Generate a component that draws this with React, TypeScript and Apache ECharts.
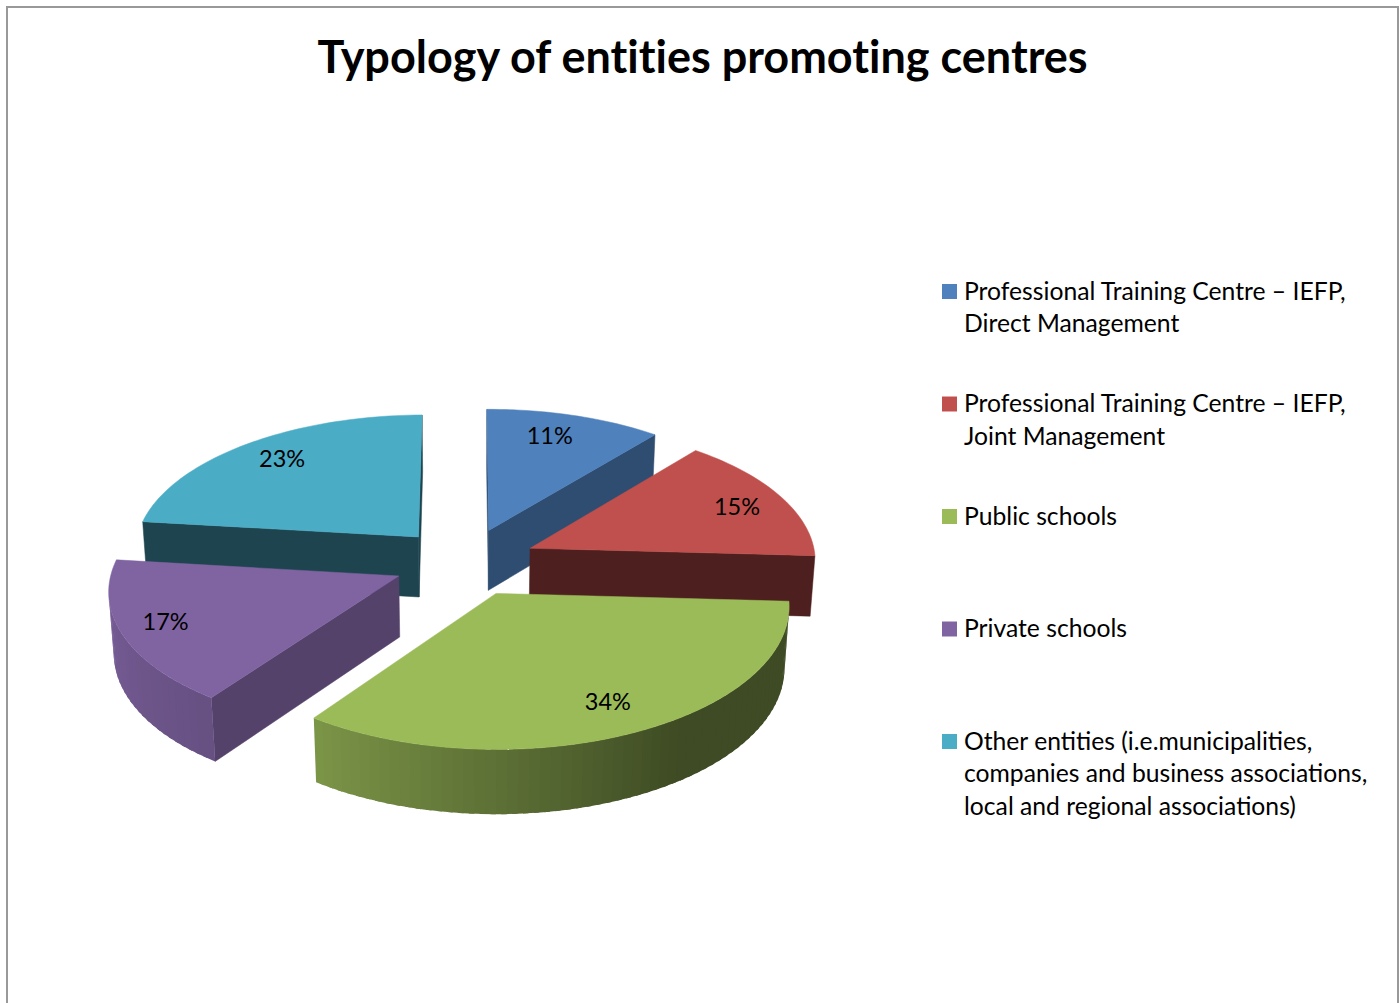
import React, { useEffect, useRef } from "react";
import * as echarts from "echarts";

const titleText = "Typology of entities promoting centres";
const categories = [
  "Professional Training Centre – IEFP,\nDirect Management",
  "Professional Training Centre – IEFP,\nJoint Management",
  "Public schools",
  "Private schools",
  "Other entities (i.e.municipalities,\ncompanies and business associations,\nlocal and regional associations)",
];
const shares = [11, 15, 34, 17, 23];
const colors = ["#4F81BD", "#C0504D", "#9BBB59", "#8064A2", "#4BACC6"];

// Brightness of each slice's cut face, and where its label sits relative to its mid-angle.
const wallShade = [0.6, 0.4, 0.5, 0.66, 0.4];
const labelReach = [0.93, 1.05, 1.04, 1.08, 1.02];
const labelNudge: [number, number][] = [[1, -15], [6, 0], [5, 0], [-5, -3], [-2, -7]];

// Projection of the pie plane on screen, in unit-radius world coordinates.
const CX = 465;
const CY = 562;
const SCALE_X = 286;
const SCALE_Y = 136.7;
const PERSPECTIVE = 0.0865;
const ROLL = 0.004;
const EXPLODE = 0.25;
const THICKNESS = 61.5;
const BASE_RECEDE = 0.014;
const FONT = "Lato, 'Open Sans', sans-serif";

type Pt = [number, number];

const rad = (deg: number) => (deg * Math.PI) / 180;

function project(x: number, y: number, lower: boolean): Pt {
  const den = 1 - PERSPECTIVE * y + (lower ? BASE_RECEDE : 0);
  const sx = (SCALE_X * x) / den;
  return [CX + sx, CY + (SCALE_Y * y + (lower ? THICKNESS : 0)) / den - ROLL * sx];
}

function shoelace(pts: Pt[]): number {
  let a = 0;
  pts.forEach((p, i) => {
    const q = pts[(i + 1) % pts.length];
    a += p[0] * q[1] - q[0] * p[1];
  });
  return a;
}

function shade(hex: string, m: number): string {
  const n = parseInt(hex.slice(1), 16);
  const c = [(n >> 16) & 255, (n >> 8) & 255, n & 255].map((v) => Math.round(v * m));
  return `rgb(${c[0]},${c[1]},${c[2]})`;
}

// Light falling on the rim: dark on the front right, brightening towards the left.
function rimLight(deg: number): number {
  if (deg < 145) return 0.4;
  if (deg < 216) return 0.4 + ((deg - 145) / 71) * 0.4;
  return Math.min(0.96, 0.8 + ((deg - 216) / 61) * 0.16);
}

const total = shares.reduce((a, b) => a + b, 0);
const startAngles = shares.map((_, i) =>
  (shares.slice(0, i).reduce((a, b) => a + b, 0) / total) * 360
);

function offsetOf(i: number): Pt {
  const mid = rad(startAngles[i] + (shares[i] / total) * 180);
  return [EXPLODE * Math.sin(mid), -EXPLODE * Math.cos(mid)];
}

// Slices furthest from the viewer are painted first.
const paintOrder = shares.map((_, i) => i).sort((a, b) => offsetOf(a)[1] - offsetOf(b)[1]);

function renderSlice(_params: any, api: any) {
  const i = api.value(0) as number;
  const color = colors[i];
  const from = startAngles[i];
  const sweep = (shares[i] / total) * 360;
  const to = from + sweep;
  const [ox, oy] = offsetOf(i);
  const rim = (deg: number, lower: boolean) =>
    project(ox + Math.sin(rad(deg)), oy - Math.cos(rad(deg)), lower);

  const children: any[] = [];
  const poly = (points: Pt[], fill: string, lineWidth = 0.5) =>
    children.push({
      type: "polygon",
      shape: { points },
      style: { fill, stroke: fill, lineWidth },
      silent: true,
    });

  const apexTop = project(ox, oy, false);
  const apexLow = project(ox, oy, true);
  const wallColor = shade(color, wallShade[i]);

  const startWall: Pt[] = [apexTop, rim(from, false), rim(from, true), apexLow];
  if (shoelace(startWall) < 0) poly(startWall, wallColor);
  const endWall: Pt[] = [apexTop, rim(to, false), rim(to, true), apexLow];
  if (shoelace(endWall) > 0) poly(endWall, wallColor);

  // Rim bands overlap the next one slightly so no seams show between them.
  const bandSteps = Math.ceil(sweep / 2);
  for (let s = 0; s < bandSteps; s++) {
    const a = from + (sweep * s) / bandSteps;
    const b = from + (sweep * (s + 1)) / bandSteps;
    const c = Math.min(to, b + 1);
    const quad: Pt[] = [rim(a, false), rim(b, false), rim(b, true), rim(a, true)];
    if (shoelace(quad) < 0) {
      const wide: Pt[] = [rim(a, false), rim(c, false), rim(c, true), rim(a, true)];
      poly(wide, shade(color, rimLight((a + b) / 2)), 0);
    }
  }

  const steps = Math.ceil(sweep / 1.5);
  const top: Pt[] = [apexTop];
  for (let s = 0; s <= steps; s++) top.push(rim(from + (sweep * s) / steps, false));
  poly(top, color);

  const mid = rad(from + sweep / 2);
  const reach = labelReach[i];
  const [lx, ly] = project(reach * Math.sin(mid), -reach * Math.cos(mid), false);
  children.push({
    type: "text",
    x: lx + labelNudge[i][0],
    y: ly + labelNudge[i][1],
    silent: true,
    style: {
      text: `${shares[i]}%`,
      fill: "#000",
      font: `23.5px ${FONT}`,
      align: "center",
      verticalAlign: "middle",
    },
  });

  return { type: "group", children };
}

const ROW_TOP = 274;
const ROW_PITCH = 112.5;

export default function App() {
  const ref = useRef<HTMLDivElement>(null);

  useEffect(() => {
    if (!ref.current) return;
    const chart = echarts.init(ref.current, undefined, { renderer: "svg" });
    const legendItems = categories.flatMap((name, i) => [
      {
        type: "rect",
        shape: { x: 942, y: 284 + ROW_PITCH * i, width: 15, height: 15 },
        style: { fill: colors[i] },
      },
      {
        type: "text",
        x: 964,
        y: ROW_TOP + ROW_PITCH * i,
        style: {
          text: name,
          fill: "#000",
          font: `24.7px ${FONT}`,
          lineHeight: 32.5,
          verticalAlign: "top",
        },
      },
    ]);
    chart.setOption({
      animation: false,
      backgroundColor: "#fff",
      title: {
        text: titleText,
        left: 697.5,
        top: 28,
        textAlign: "center",
        textStyle: { color: "#000", fontFamily: FONT, fontWeight: "bold", fontSize: 45 },
      },
      graphic: [
        {
          type: "rect",
          z: -1,
          shape: { x: 7, y: 7, width: 1391, height: 1100 },
          style: { fill: "transparent", stroke: "#999", lineWidth: 2 },
        },
        ...legendItems,
      ],
      series: [
        {
          type: "custom",
          coordinateSystem: "none",
          renderItem: renderSlice,
          data: paintOrder.map((i) => [i]),
          silent: true,
        },
      ],
    });
    return () => chart.dispose();
  }, []);

  return (
    <div
      ref={ref}
      style={{
        position: "fixed",
        left: 0,
        top: 0,
        width: 1400,
        height: 1003,
        overflow: "hidden",
        fontVariantLigatures: "none",
      }}
    />
  );
}
